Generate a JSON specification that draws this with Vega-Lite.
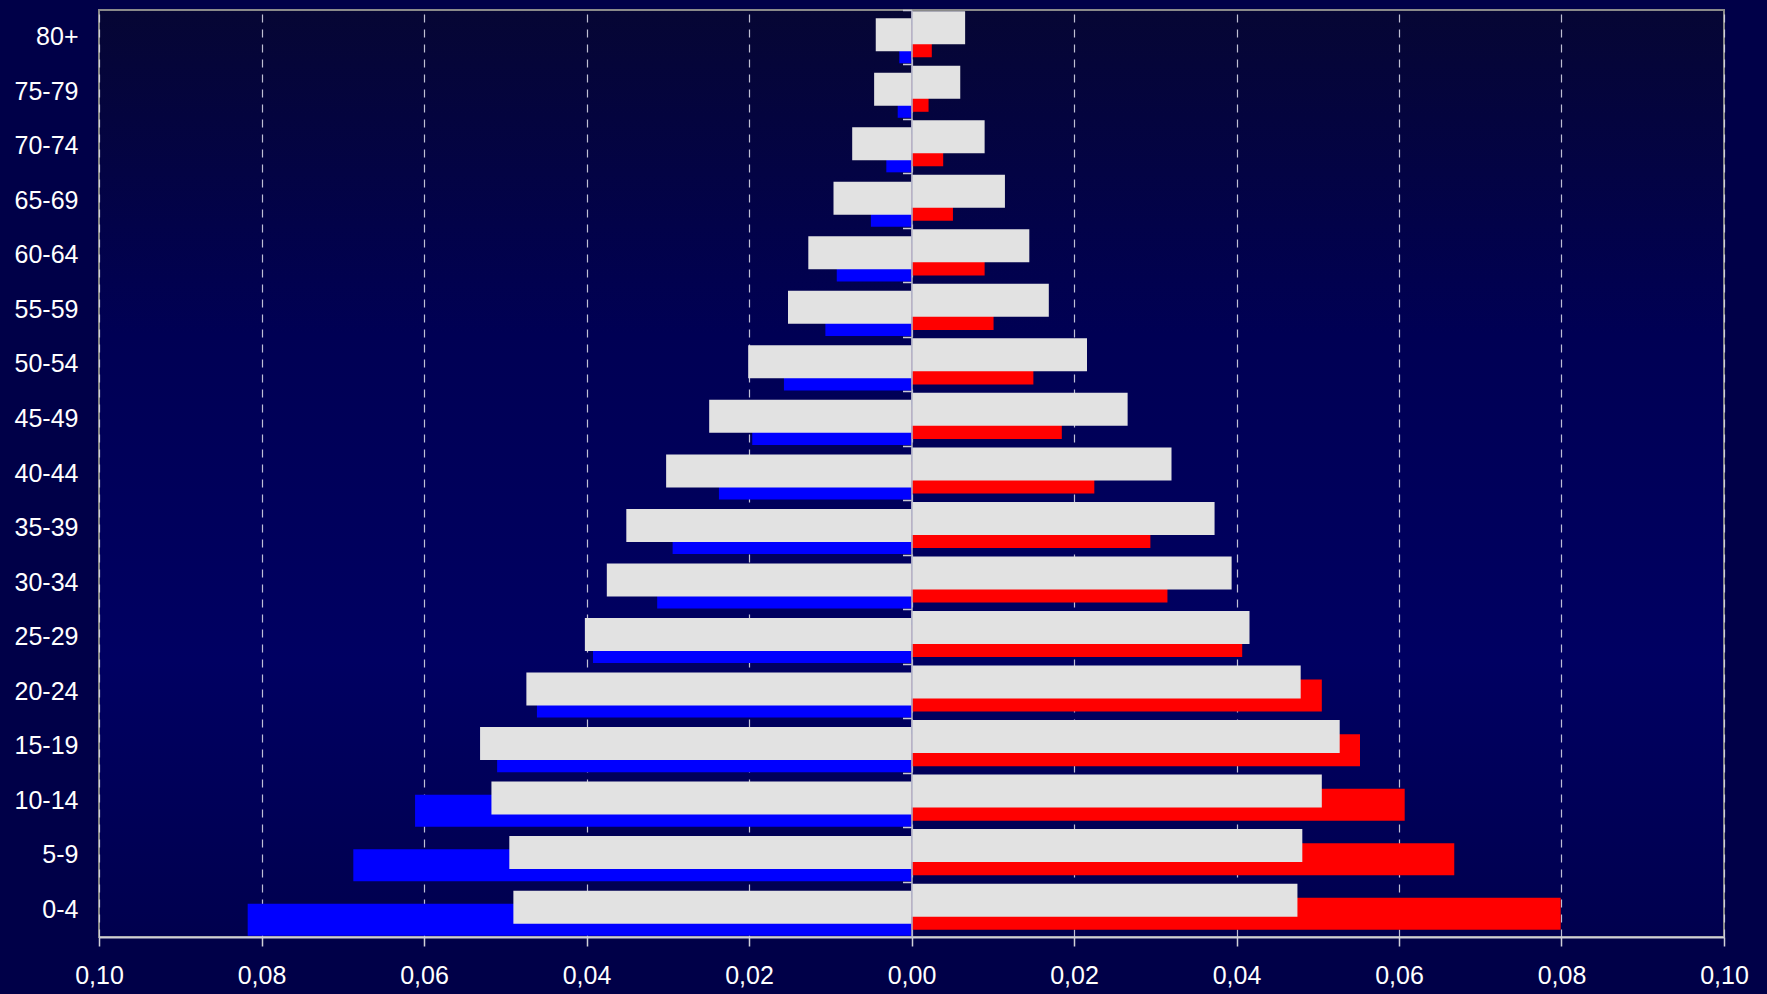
{
  "$schema": "https://vega.github.io/schema/vega-lite/v6.json",
  "width": 1625,
  "height": 927,
  "autosize": {"type": "none"},
  "padding": {"left": 99, "top": 10, "right": 43, "bottom": 57},
  "background": "#000048",
  "config": {
    "view": {
      "stroke": "#8a8a8a",
      "strokeWidth": 2,
      "fill": {
        "gradient": "linear",
        "x1": 0, "y1": 0, "x2": 0, "y2": 1,
        "stops": [
          {"offset": 0, "color": "#060634"},
          {"offset": 0.35, "color": "#000054"},
          {"offset": 0.7, "color": "#000062"},
          {"offset": 1, "color": "#00004e"}
        ]
      }
    },
    "font": "Liberation Sans",
    "axis": {"labelFont": "Liberation Sans", "labelFontSize": 25, "labelColor": "#ffffff", "title": null}
  },
  "data": {
    "values": [
      {"age": "80+", "side": "left", "kind": "colored", "value": -0.0015},
      {"age": "80+", "side": "left", "kind": "white", "value": -0.0044},
      {"age": "80+", "side": "right", "kind": "white", "value": 0.0066},
      {"age": "80+", "side": "right", "kind": "colored", "value": 0.0025},
      {"age": "75-79", "side": "left", "kind": "colored", "value": -0.0017},
      {"age": "75-79", "side": "left", "kind": "white", "value": -0.0046},
      {"age": "75-79", "side": "right", "kind": "white", "value": 0.0060},
      {"age": "75-79", "side": "right", "kind": "colored", "value": 0.0021},
      {"age": "70-74", "side": "left", "kind": "colored", "value": -0.0031},
      {"age": "70-74", "side": "left", "kind": "white", "value": -0.0073},
      {"age": "70-74", "side": "right", "kind": "white", "value": 0.0090},
      {"age": "70-74", "side": "right", "kind": "colored", "value": 0.0039},
      {"age": "65-69", "side": "left", "kind": "colored", "value": -0.0050},
      {"age": "65-69", "side": "left", "kind": "white", "value": -0.0096},
      {"age": "65-69", "side": "right", "kind": "white", "value": 0.0115},
      {"age": "65-69", "side": "right", "kind": "colored", "value": 0.0051},
      {"age": "60-64", "side": "left", "kind": "colored", "value": -0.0092},
      {"age": "60-64", "side": "left", "kind": "white", "value": -0.0127},
      {"age": "60-64", "side": "right", "kind": "white", "value": 0.0145},
      {"age": "60-64", "side": "right", "kind": "colored", "value": 0.0090},
      {"age": "55-59", "side": "left", "kind": "colored", "value": -0.0106},
      {"age": "55-59", "side": "left", "kind": "white", "value": -0.0152},
      {"age": "55-59", "side": "right", "kind": "white", "value": 0.0169},
      {"age": "55-59", "side": "right", "kind": "colored", "value": 0.0101},
      {"age": "50-54", "side": "left", "kind": "colored", "value": -0.0157},
      {"age": "50-54", "side": "left", "kind": "white", "value": -0.0201},
      {"age": "50-54", "side": "right", "kind": "white", "value": 0.0216},
      {"age": "50-54", "side": "right", "kind": "colored", "value": 0.0150},
      {"age": "45-49", "side": "left", "kind": "colored", "value": -0.0196},
      {"age": "45-49", "side": "left", "kind": "white", "value": -0.0249},
      {"age": "45-49", "side": "right", "kind": "white", "value": 0.0266},
      {"age": "45-49", "side": "right", "kind": "colored", "value": 0.0185},
      {"age": "40-44", "side": "left", "kind": "colored", "value": -0.0237},
      {"age": "40-44", "side": "left", "kind": "white", "value": -0.0302},
      {"age": "40-44", "side": "right", "kind": "white", "value": 0.0320},
      {"age": "40-44", "side": "right", "kind": "colored", "value": 0.0225},
      {"age": "35-39", "side": "left", "kind": "colored", "value": -0.0294},
      {"age": "35-39", "side": "left", "kind": "white", "value": -0.0351},
      {"age": "35-39", "side": "right", "kind": "white", "value": 0.0373},
      {"age": "35-39", "side": "right", "kind": "colored", "value": 0.0294},
      {"age": "30-34", "side": "left", "kind": "colored", "value": -0.0313},
      {"age": "30-34", "side": "left", "kind": "white", "value": -0.0375},
      {"age": "30-34", "side": "right", "kind": "white", "value": 0.0394},
      {"age": "30-34", "side": "right", "kind": "colored", "value": 0.0315},
      {"age": "25-29", "side": "left", "kind": "colored", "value": -0.0392},
      {"age": "25-29", "side": "left", "kind": "white", "value": -0.0402},
      {"age": "25-29", "side": "right", "kind": "white", "value": 0.0416},
      {"age": "25-29", "side": "right", "kind": "colored", "value": 0.0407},
      {"age": "20-24", "side": "left", "kind": "colored", "value": -0.0461},
      {"age": "20-24", "side": "left", "kind": "white", "value": -0.0474},
      {"age": "20-24", "side": "right", "kind": "white", "value": 0.0479},
      {"age": "20-24", "side": "right", "kind": "colored", "value": 0.0505},
      {"age": "15-19", "side": "left", "kind": "colored", "value": -0.0510},
      {"age": "15-19", "side": "left", "kind": "white", "value": -0.0531},
      {"age": "15-19", "side": "right", "kind": "white", "value": 0.0527},
      {"age": "15-19", "side": "right", "kind": "colored", "value": 0.0552},
      {"age": "10-14", "side": "left", "kind": "colored", "value": -0.0611},
      {"age": "10-14", "side": "left", "kind": "white", "value": -0.0517},
      {"age": "10-14", "side": "right", "kind": "white", "value": 0.0505},
      {"age": "10-14", "side": "right", "kind": "colored", "value": 0.0607},
      {"age": "5-9", "side": "left", "kind": "colored", "value": -0.0687},
      {"age": "5-9", "side": "left", "kind": "white", "value": -0.0495},
      {"age": "5-9", "side": "right", "kind": "white", "value": 0.0481},
      {"age": "5-9", "side": "right", "kind": "colored", "value": 0.0668},
      {"age": "0-4", "side": "left", "kind": "colored", "value": -0.0817},
      {"age": "0-4", "side": "left", "kind": "white", "value": -0.0490},
      {"age": "0-4", "side": "right", "kind": "white", "value": 0.0475},
      {"age": "0-4", "side": "right", "kind": "colored", "value": 0.0799}
    ]
  },
  "layer": [
    {
      "transform": [{"filter": "datum.side == 'left' && datum.kind == 'colored'"}],
      "mark": {"type": "bar", "color": "#0000ff", "height": 32, "yOffset": 10},
      "encoding": {
        "x": {
          "field": "value", "type": "quantitative",
          "scale": {"domain": [-0.1, 0.1], "nice": false, "zero": false},
          "axis": {
            "orient": "bottom",
            "values": [-0.1, -0.08, -0.06, -0.04, -0.02, 0, 0.02, 0.04, 0.06, 0.08, 0.1],
            "labelExpr": "replace(format(abs(datum.value), '.2f'), '.', ',')",
            "labelFlush": false,
            "labelOverlap": false,
            "grid": true,
            "gridDash": [8, 7],
            "gridColor": "#d4d4e4",
            "gridWidth": 1.2,
            "gridOpacity": 0.9,
            "ticks": true,
            "tickSize": 9,
            "tickColor": "#d0d0d8",
            "tickWidth": 1.5,
            "domain": true,
            "domainColor": "#d0d0d8",
            "domainWidth": 2,
            "labelPadding": 17,
            "labelFontSize": 25
          }
        },
        "y": {
          "field": "age", "type": "nominal",
          "sort": ["80+", "75-79", "70-74", "65-69", "60-64", "55-59", "50-54", "45-49", "40-44", "35-39", "30-34", "25-29", "20-24", "15-19", "10-14", "5-9", "0-4"],
          "scale": {"paddingInner": 0, "paddingOuter": 0},
          "axis": {
            "orient": "left",
            "ticks": false,
            "tickSize": 0,
            "domain": false,
            "grid": false,
            "labelPadding": 21,
            "labelFontSize": 25
          }
        }
      }
    },
    {
      "transform": [{"filter": "datum.side == 'right' && datum.kind == 'colored'"}],
      "mark": {"type": "bar", "color": "#ff0000", "height": 32, "yOffset": 4},
      "encoding": {
        "x": {"field": "value", "type": "quantitative"},
        "y": {
          "field": "age", "type": "nominal",
          "sort": ["80+", "75-79", "70-74", "65-69", "60-64", "55-59", "50-54", "45-49", "40-44", "35-39", "30-34", "25-29", "20-24", "15-19", "10-14", "5-9", "0-4"],
          "axis": null
        }
      }
    },
    {
      "transform": [{"filter": "datum.side == 'left' && datum.kind == 'white'"}],
      "mark": {"type": "bar", "color": "#e2e2e2", "height": 33, "yOffset": -2.6},
      "encoding": {
        "x": {"field": "value", "type": "quantitative"},
        "y": {
          "field": "age", "type": "nominal",
          "sort": ["80+", "75-79", "70-74", "65-69", "60-64", "55-59", "50-54", "45-49", "40-44", "35-39", "30-34", "25-29", "20-24", "15-19", "10-14", "5-9", "0-4"],
          "axis": null
        }
      }
    },
    {
      "transform": [{"filter": "datum.side == 'right' && datum.kind == 'white'"}],
      "mark": {"type": "bar", "color": "#e2e2e2", "height": 33, "yOffset": -9.6},
      "encoding": {
        "x": {"field": "value", "type": "quantitative"},
        "y": {
          "field": "age", "type": "nominal",
          "sort": ["80+", "75-79", "70-74", "65-69", "60-64", "55-59", "50-54", "45-49", "40-44", "35-39", "30-34", "25-29", "20-24", "15-19", "10-14", "5-9", "0-4"],
          "axis": {
            "orient": "left",
            "offset": -812.5,
            "labels": false,
            "ticks": true,
            "tickSize": 9,
            "tickColor": "#c8c8d4",
            "tickWidth": 1.5,
            "bandPosition": 0,
            "domain": true,
            "domainColor": "#b4b4c8",
            "domainWidth": 1.5,
            "grid": false,
            "zindex": 1
          }
        }
      }
    }
  ],
  "resolve": {"axis": {"y": "independent"}}
}
